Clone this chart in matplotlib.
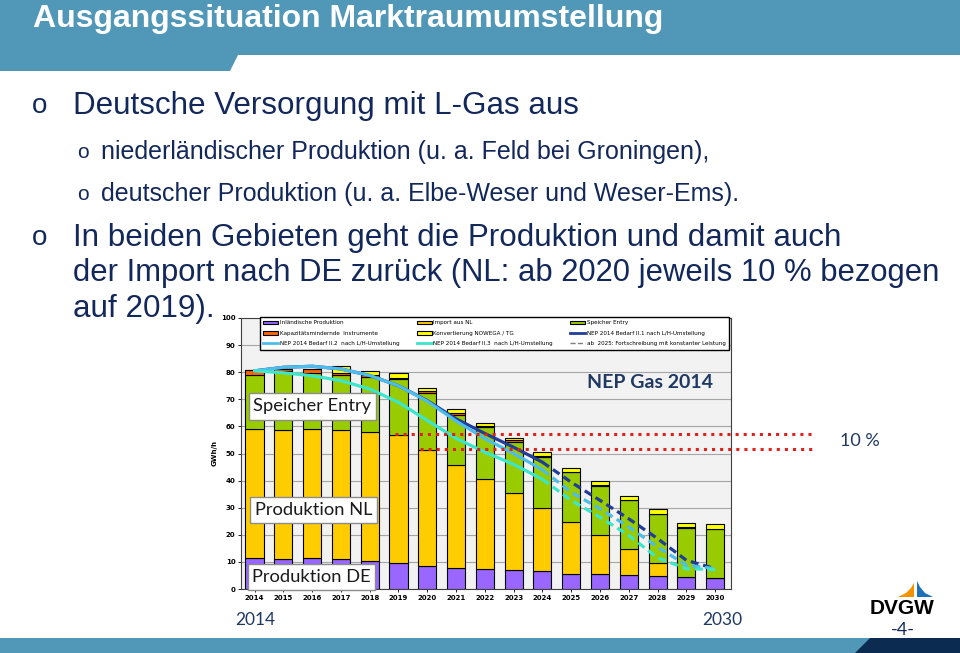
import numpy as np
import matplotlib.pyplot as plt
from matplotlib.patches import Polygon, Rectangle, Patch
from matplotlib.lines import Line2D

# values (GWh/h)
years = np.arange(2014, 2031)
prod_de = [11.4, 11.2, 11.3, 11.1, 10.3, 9.6, 8.6, 7.9, 7.5, 6.9, 6.5, 5.7, 5.5, 5.3, 4.9, 4.5, 4.1]
import_nl = [47.6, 47.5, 47.7, 47.6, 47.7, 47.4, 42.8, 37.9, 33.2, 28.5, 23.4, 19.2, 14.5, 9.4, 4.7, 0, 0]
speicher = [20.0, 21.8, 20.6, 20.4, 20.4, 20.4, 21.1, 18.5, 19.0, 18.8, 18.7, 18.1, 18.0, 18.0, 18.0, 18.1, 18.1]
kapazitaet = [1.8, 0.6, 1.6, 0.5, 0.4, 0.3, 0.5, 0.7, 0.6, 0.6, 0.4, 0.3, 0.2, 0.2, 0.2, 0.1, 0.1]
konvertierung = [0, 0, 0, 2.6, 1.5, 2.0, 1.1, 1.5, 1.1, 1.1, 1.7, 1.4, 1.5, 1.5, 1.6, 1.6, 1.8]

nep_21 = [80.5, 81.8, 82.2, 81.2, 78.8, 75.0, 69.5, 62.8, 57.4, 52.3, 46.8, 39.4, 32.7, 25.9, 18.6, 10.6, 7.5]
nep_22 = [80.5, 81.8, 82.2, 81.2, 78.8, 75.0, 69.3, 62.0, 55.5, 50.0, 44.0, 35.7, 29.6, 22.9, 15.5, 8.8, 7.5]
nep_23 = [80.5, 79.8, 78.7, 76.9, 73.8, 68.9, 62.2, 55.6, 50.5, 46.0, 40.5, 32.7, 26.5, 19.8, 11.5, 7.5, 7.2]

level_2019 = 57.3       # production 2019
level_minus10 = 51.6    # minus 10 %

navy = '#13285A'
teal = '#5097B8'
W, H = 960, 653


def fr(x, y, w, h):
    # pixel box (top-left origin) -> figure fraction
    return [x / W, 1 - (y + h) / H, w / W, h / H]


fig = plt.figure(figsize=(9.6, 6.53), dpi=100)

# ---- chart ----
ax = fig.add_axes(fr(241, 318, 490, 271), zorder=2)
ax.set_facecolor('#f2f2f2')
bw = 0.63
stack = [(prod_de, '#9966FF', 'Inländische Produktion'),
         (import_nl, '#FFCC00', 'Import aus NL'),
         (speicher, '#99CC00', 'Speicher Entry'),
         (kapazitaet, '#FF6600', 'Kapazitätsmindernde  Instrumente'),
         (konvertierung, '#FFFF00', 'Konvertierung NOWEGA / TG')]
bottom = np.zeros(len(years))
for vals, col, lab in stack:
    ax.bar(years, vals, bw, bottom=bottom, color=col, edgecolor='black', linewidth=0.8, zorder=3)
    bottom += np.array(vals)

line_cols = ['#1F3D99', '#4DBDEB', '#3CE6CC']
for vals, col in zip([nep_21, nep_22, nep_23], line_cols):
    ax.plot(years[:11], vals[:11], color=col, lw=2.3, zorder=4, solid_capstyle='round')
    ax.plot(years[10:], vals[10:], color=col, lw=2.3, ls=(0, (2.5, 1.5)), zorder=4)

ax.plot([2018.88, 2033.5], [level_2019] * 2, color='#E0201B', ls=':', lw=2.2, zorder=5, clip_on=False)
ax.plot([2019.75, 2033.5], [level_minus10] * 2, color='#E0201B', ls=':', lw=2.2, zorder=5, clip_on=False)

ax.set_xlim(2013.53, 2030.55)
ax.set_ylim(0, 100)
ax.set_yticks(range(0, 101, 10))
ax.set_xticks(years)
ax.tick_params(labelsize=5, length=2, width=0.6, pad=2)
for t in ax.get_xticklabels() + ax.get_yticklabels():
    t.set_fontweight('bold')
ax.yaxis.grid(True, color='#a6a6a6', lw=0.8, zorder=0)
ax.set_axisbelow(True)
for s in ax.spines.values():
    s.set_color('#404040')
    s.set_linewidth(0.8)
ax.set_ylabel('GWh/h', fontsize=5, fontweight='bold', labelpad=2)

handles = [Patch(facecolor=c, edgecolor='black', lw=0.8) for _, c, _ in stack]
labels = [l for _, _, l in stack]
handles += [Line2D([], [], color=line_cols[0], lw=2), Line2D([], [], color=line_cols[1], lw=2),
            Line2D([], [], color=line_cols[2], lw=2), Line2D([], [], color='#7f7f7f', lw=1, ls='--')]
labels += ['NEP 2014 Bedarf II.1 nach L/H-Umstellung', 'NEP 2014 Bedarf II.2  nach L/H-Umstellung',
           'NEP 2014 Bedarf II.3  nach L/H-Umstellung', 'ab  2025: Fortschreibung mit konstanter Leistung']
order = [0, 3, 6, 1, 4, 7, 2, 5, 8]
leg = ax.legend([handles[i] for i in order], [labels[i] for i in order], ncol=3, fontsize=4.1,
                loc='upper left', bbox_to_anchor=fr(260, 317, 469, 39), bbox_transform=fig.transFigure,
                mode='expand', borderaxespad=0, fancybox=False, edgecolor='black', framealpha=1,
                handlelength=2.6, handleheight=0.6, labelspacing=0.95, handletextpad=0.3, borderpad=0.6)
leg.get_frame().set_linewidth(1)
leg.set_zorder(6)

# ---- slide layer (pixel coordinates) ----
ov = fig.add_axes([0, 0, 1, 1], zorder=5)
ov.set_xlim(0, W)
ov.set_ylim(H, 0)
ov.axis('off')

ov.add_patch(Polygon([(0, 0), (W, 0), (W, 55), (238, 55), (230, 71), (0, 71)], closed=True, color=teal, lw=0))
ov.text(33, 19, 'Ausgangssituation Marktraumumstellung', color='white', fontsize=23, fontweight='bold',
        family=['Liberation Sans Narrow', 'Liberation Sans'], va='center', ha='left')

ov.add_patch(Rectangle((0, 638), W, 15, color=teal, lw=0))
ov.add_patch(Polygon([(855, 653), (870, 638), (W, 638), (W, 653)], closed=True, color='#0C2B50', lw=0))

sf = 'Liberation Sans'
big = 22.6
ov.text(32, 106, 'o', fontsize=20, color=navy, family=sf, va='center')
ov.text(73, 106, 'Deutsche Versorgung mit L-Gas aus', fontsize=big, color=navy, family=sf, va='center')
ov.text(77, 152, 'o', fontsize=15, color=navy, family=sf, va='center')
ov.text(101, 152, 'niederländischer Produktion (u. a. Feld bei Groningen),', fontsize=18, color=navy,
        family=sf, va='center')
ov.text(77, 194, 'o', fontsize=15, color=navy, family=sf, va='center')
ov.text(101, 194, 'deutscher Produktion (u. a. Elbe-Weser und Weser-Ems).', fontsize=18, color=navy,
        family=sf, va='center')
ov.text(32, 238, 'o', fontsize=20, color=navy, family=sf, va='center')
ov.text(73, 238, 'In beiden Gebieten geht die Produktion und damit auch', fontsize=big, color=navy,
        family=sf, va='center')
ov.text(73, 273, 'der Import nach DE zurück (NL: ab 2020 jeweils 10 % bezogen', fontsize=big - 0.3,
        color=navy, family=sf, va='center')
ov.text(73, 309, 'auf 2019).', fontsize=big, color=navy, family=sf, va='center')

cf = 'Lato'
for (x, y, w, h), txt in [((249, 393, 127, 27), 'Speicher Entry'),
                          ((250, 497, 127, 26), 'Produktion NL'),
                          ((248, 564, 127, 26), 'Produktion DE')]:
    ov.add_patch(Rectangle((x, y), w, h, facecolor='white', edgecolor='#8c8c8c', lw=1))
    ov.text(x + w / 2, y + h / 2, txt, fontsize=13.2, color='#1a1a1a', family=cf, ha='center', va='center')

ov.text(650, 383, 'NEP Gas 2014', fontsize=14, fontweight='bold', color='#1F3864', family=cf,
        ha='center', va='center')
ov.text(860, 441, '10 %', fontsize=13, color='#1F3864', family=cf, ha='center', va='center')
ov.text(255, 620, '2014', fontsize=12.5, color='#1F3864', family=cf, ha='center', va='center')
ov.text(722, 620, '2030', fontsize=12.5, color='#1F3864', family=cf, ha='center', va='center')

# DVGW logo
ov.add_patch(Polygon([(914, 583), (914, 597), (898, 597), (906, 593), (911, 588)], closed=True,
                     color='#F39200', lw=0))
ov.add_patch(Polygon([(917, 581), (917, 597), (933, 597), (925, 593), (920, 587)], closed=True,
                     color='#1D71B8', lw=0))
ov.text(902, 609, 'DVGW', fontsize=15, fontweight='bold', color='black', family=sf, ha='center', va='center')
ov.text(903, 630, '-4-', fontsize=13, color=navy, family=cf, ha='center', va='center')

fig.savefig('out.png', dpi=100)
